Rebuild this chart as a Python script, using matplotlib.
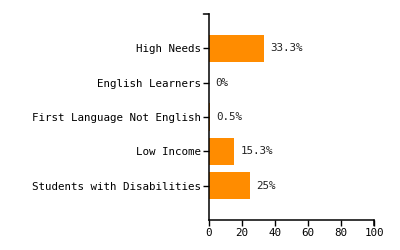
import matplotlib
matplotlib.use("Agg")
import matplotlib.pyplot as plt

categories = ["High Needs", "English Learners", "First Language Not English",
              "Low Income", "Students with Disabilities"]
values = [33.3, 0, 0.5, 15.3, 25]
value_labels = ["33.3%", "0%", "0.5%", "15.3%", "25%"]
x_ticks = [0, 20, 40, 60, 80, 100]

plt.rcParams['font.family'] = ['DejaVu Sans Mono']
fs = 7.8

fig = plt.figure(figsize=(4, 2.5), dpi=100)
ax = fig.add_axes([209 / 400, 1 - 220 / 250, 165 / 400, 206 / 250])

ypos = list(range(len(categories)))
ax.barh(ypos, values, height=0.8, color="#ff8c00")
for y, v, lab in zip(ypos, values, value_labels):
    ax.annotate(lab, (v, y), xytext=(4.5, 0), textcoords="offset points",
                va="center", ha="left", fontsize=fs, color="#222222")

ax.set_xlim(0, 100)
ax.set_ylim(5, -1)
ax.set_yticks(ypos)
ax.set_yticklabels(categories, fontsize=fs)
ax.set_xticks(x_ticks)
ax.set_xticklabels([str(t) for t in x_ticks], fontsize=fs)
ax.tick_params(length=4, width=1, pad=2, colors="black")

for s in ["top", "right"]:
    ax.spines[s].set_visible(False)
for s in ["left", "bottom"]:
    ax.spines[s].set_linewidth(1.1)

# d3-style outer ticks at the axis ends
ax.annotate("", xy=(0, -1), xytext=(-4, 0), textcoords="offset points",
            arrowprops=dict(arrowstyle="-", lw=1.1, color="black",
                            shrinkA=0, shrinkB=0), annotation_clip=False)
ax.annotate("", xy=(100, 5), xytext=(0, -4), textcoords="offset points",
            arrowprops=dict(arrowstyle="-", lw=1.1, color="black",
                            shrinkA=0, shrinkB=0), annotation_clip=False)

fig.savefig("out.png", dpi=100)
